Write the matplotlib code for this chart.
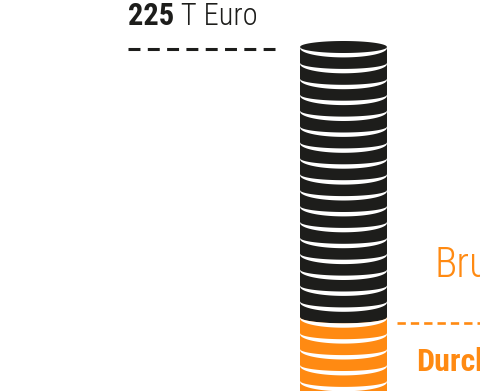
import numpy as np
import matplotlib
matplotlib.use("Agg")
import matplotlib.pyplot as plt
from matplotlib import font_manager as fm
from matplotlib.patches import Polygon

# ---------------- data ----------------
total_value = 225            # T Euro, top of the coin stack
orange_value = 55            # T Euro, where the orange part of the stack starts
coin_value = 10              # T Euro per coin
label_value = "225"
label_unit = " T Euro"
label_top_right = "Bru"
label_bottom_right = "Durch"

BLACK = "#1d1d1b"
ORANGE = "#ff8a12"

# ---------------- font ----------------
def pick_font():
    names = {f.name for f in fm.fontManager.ttflist}
    for p in ["Liberation Sans Narrow", "Roboto Condensed", "Open Sans Condensed",
              "DejaVu Sans Condensed", "Noto Sans Condensed"]:
        if p in names:
            return p, "normal"
    for f in fm.fontManager.ttflist:
        if f.name in ("Noto Sans", "Open Sans", "Roboto", "DejaVu Sans", "Inter") and \
                str(f.stretch) in ("condensed", "extra-condensed", "semi-condensed", "ultra-condensed"):
            return f.name, f.stretch
    return "Roboto", "normal"

FONT, STRETCH = pick_font()

# ---------------- figure ----------------
W, H, DPI = 481, 391, 100
fig = plt.figure(figsize=(W / DPI, H / DPI), dpi=DPI)
ax = fig.add_axes([0, 0, 1, 1])
ax.set_axis_off()

px_per_unit = 1.59           # vertical scale (pixels per T Euro)
top_px = 47                  # pixel row of the top of the stack
ax.set_xlim(0, W)
ax.set_ylim(total_value - (H - top_px) / px_per_unit, total_value + top_px / px_per_unit)

cx, rx = 343.5, 43.5         # stack centre and half-width (pixels)
ry = 6.0 / px_per_unit       # ellipse half-height in value units
gap = 3.4 / px_per_unit      # white gap between coins (centre)
gap0 = 1.0 / px_per_unit     # white gap at the edges

u = np.linspace(-1, 1, 161)
s = np.sqrt(1 - u ** 2)
xs = cx + rx * u

def coin(top, color):
    bottom = top - coin_value
    upper = np.column_stack([xs[::-1], top + ry * s[::-1]])
    lower = np.column_stack([xs, bottom - ry * s])
    ax.add_patch(Polygon(np.vstack([lower, upper]), closed=True, facecolor=color,
                         edgecolor="none", zorder=2))
    # white crescent below the coin's top face
    c_up = np.column_stack([xs, top - ry * s])
    c_lo = np.column_stack([xs[::-1], top - (ry + gap) * s[::-1] - gap0])
    ax.add_patch(Polygon(np.vstack([c_up, c_lo]), closed=True, facecolor="white",
                         edgecolor="none", zorder=3))

black_tops = np.arange(total_value, orange_value, -coin_value)
orange_tops = np.arange(orange_value, 0, -coin_value)
ymin = ax.get_ylim()[0]
for t in orange_tops[::-1]:
    if t + ry > ymin:
        coin(t, ORANGE)
for t in black_tops[::-1]:
    coin(t, BLACK)

# ---------------- reference lines ----------------
plt.rcParams["lines.scale_dashes"] = False
ax.plot([128, 275], [total_value - 1.5 / px_per_unit] * 2, color=BLACK, lw=2.2,
        dashes=(8.6, 5.3), solid_capstyle="butt", dash_capstyle="butt", zorder=4)
ax.plot([397, W + 5], [orange_value - ry] * 2, color=ORANGE, lw=1.9,
        dashes=(6.0, 3.6), dash_capstyle="butt", zorder=4)

# ---------------- labels ----------------
def fx(px):
    return px / W

def fy(py):
    return 1 - py / H

t1 = fig.text(fx(128), fy(25), label_value, fontsize=22, fontweight="bold",
              family=FONT, stretch=STRETCH, color=BLACK, ha="left", va="baseline")
fig.canvas.draw()
bb = t1.get_window_extent()
fig.text(bb.x1 / W, fy(25), label_unit, fontsize=22, fontweight="light",
         family=FONT, stretch=STRETCH, color=BLACK, ha="left", va="baseline")

fig.text(fx(434), fy(277), label_top_right, fontsize=30, fontweight="light",
         family=FONT, stretch=STRETCH, color=ORANGE, ha="left", va="baseline")
fig.text(fx(416), fy(371), label_bottom_right, fontsize=23, fontweight="bold",
         family=FONT, stretch=STRETCH, color=ORANGE, ha="left", va="baseline")

fig.savefig("out.png", dpi=DPI, facecolor="white")
